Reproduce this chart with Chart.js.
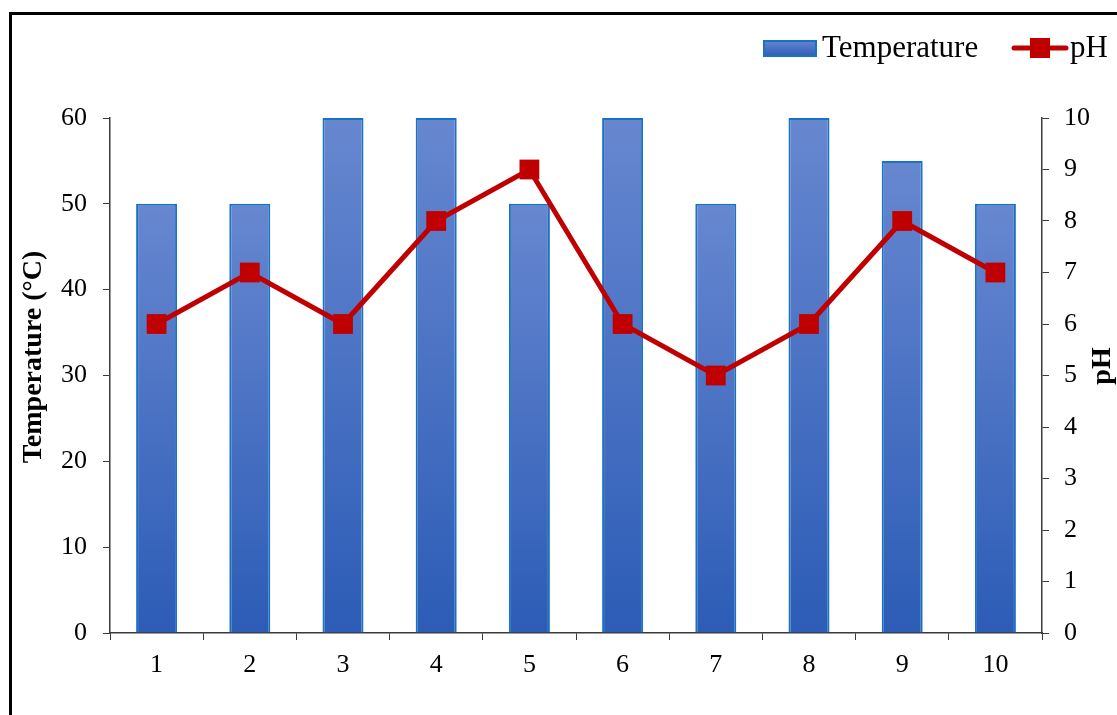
<!DOCTYPE html>
<html>
<head>
<meta charset="utf-8">
<script src="https://cdn.jsdelivr.net/npm/chart.js@4/dist/chart.umd.min.js"></script>
<style>
  html, body { margin: 0; padding: 0; background: #ffffff; }
  #wrap { width: 1117px; height: 715px; position: relative; }
</style>
</head>
<body>
<div id="wrap"><canvas id="c" width="1117" height="715"></canvas></div>
<script>
const categories = ['1', '2', '3', '4', '5', '6', '7', '8', '9', '10'];
const temperature = [50, 50, 60, 60, 50, 60, 50, 60, 55, 50];
const ph = [6, 7, 6, 8, 9, 6, 5, 6, 8, 7];
const tempTicks = [0, 10, 20, 30, 40, 50, 60];
const phTicks = [0, 1, 2, 3, 4, 5, 6, 7, 8, 9, 10];
const leftTitle = 'Temperature (°C)';
const rightTitle = 'pH';
const seriesNames = ['Temperature', 'pH'];

const FONT = "'Liberation Serif', 'Times New Roman', serif";
const BAR_TOP = '#6787d0';
const BAR_BOTTOM = '#2c5cb6';
const BAR_EDGE = '#1a72c4';
const LINE_COL = '#c00000';
const AXIS_COL = '#3a3a3a';

function barGradient(ctx, top, bottom) {
  const g = ctx.createLinearGradient(0, top, 0, bottom);
  g.addColorStop(0, BAR_TOP);
  g.addColorStop(1, BAR_BOTTOM);
  return g;
}

const decor = {
  id: 'decor',
  beforeDraw(chart) {
    const ctx = chart.ctx;
    ctx.save();
    ctx.fillStyle = '#ffffff';
    ctx.fillRect(0, 0, chart.width, chart.height);
    ctx.restore();
  },
  afterDraw(chart) {
    const ctx = chart.ctx;
    ctx.save();
    // outer frame (extends beyond the visible window on the right and bottom)
    ctx.strokeStyle = '#000000';
    ctx.lineWidth = 3;
    ctx.strokeRect(10.5, 13.5, 1200, 800);

    // axis titles
    ctx.fillStyle = '#000000';
    ctx.font = "bold 28px " + FONT;
    ctx.textAlign = 'center';
    ctx.textBaseline = 'alphabetic';
    ctx.save();
    ctx.translate(41, 357);
    ctx.rotate(-Math.PI / 2);
    ctx.fillText(leftTitle, 0, 0);
    ctx.restore();
    ctx.save();
    ctx.translate(1110, 366);
    ctx.rotate(-Math.PI / 2);
    ctx.fillText(rightTitle, 0, 0);
    ctx.restore();

    // legend
    ctx.font = "31px " + FONT;
    ctx.textAlign = 'left';
    ctx.textBaseline = 'middle';
    ctx.fillStyle = barGradient(ctx, 40, 57);
    ctx.fillRect(763, 40, 54, 17);
    ctx.strokeStyle = BAR_EDGE;
    ctx.lineWidth = 2;
    ctx.strokeRect(764, 41, 52, 15);
    ctx.fillStyle = '#000000';
    ctx.fillText(seriesNames[0], 822, 49);

    ctx.strokeStyle = LINE_COL;
    ctx.lineWidth = 5;
    ctx.lineCap = 'round';
    ctx.beginPath();
    ctx.moveTo(1014, 48);
    ctx.lineTo(1066, 48);
    ctx.stroke();
    ctx.fillStyle = LINE_COL;
    ctx.fillRect(1030, 38, 20, 20);
    ctx.fillStyle = '#000000';
    ctx.fillText(seriesNames[1], 1070, 49);
    ctx.restore();
  }
};

const chart = new Chart(document.getElementById('c'), {
  data: {
    labels: categories,
    datasets: [
      {
        type: 'line',
        label: seriesNames[1],
        data: ph,
        yAxisID: 'y1',
        order: 0,
        borderColor: LINE_COL,
        backgroundColor: LINE_COL,
        borderWidth: 5,
        pointStyle: 'rect',
        pointRadius: 14,
        pointHoverRadius: 14,
        pointBackgroundColor: LINE_COL,
        pointBorderWidth: 0,
        tension: 0
      },
      {
        type: 'bar',
        label: seriesNames[0],
        data: temperature,
        yAxisID: 'y',
        order: 1,
        backgroundColor: (c) => {
          const ch = c.chart;
          if (!ch.chartArea) return BAR_BOTTOM;
          const ys = ch.scales.y;
          const v = c.raw == null ? 0 : c.raw;
          return barGradient(ch.ctx, ys.getPixelForValue(v), ys.getPixelForValue(0));
        },
        borderColor: BAR_EDGE,
        borderWidth: 2,
        categoryPercentage: 1,
        barPercentage: 0.44
      }
    ]
  },
  options: {
    responsive: false,
    animation: false,
    devicePixelRatio: 1,
    layout: { padding: { top: 118, left: 0, right: 0, bottom: 0 } },
    plugins: {
      legend: { display: false },
      tooltip: { enabled: false }
    },
    scales: {
      x: {
        type: 'category',
        offset: true,
        grid: { display: true, drawOnChartArea: false, drawTicks: true, tickLength: 7, color: AXIS_COL, offset: true },
        border: { display: true, color: AXIS_COL, width: 1.5 },
        ticks: { color: '#000000', font: { family: FONT, size: 26 }, padding: 10, maxRotation: 0 },
        afterFit(s) { s.height = 82; }
      },
      y: {
        position: 'left',
        min: 0, max: 60,
        afterBuildTicks(s) { s.ticks = tempTicks.map(v => ({ value: v })); },
        grid: { display: true, drawOnChartArea: false, drawTicks: true, tickLength: 7, color: AXIS_COL },
        border: { display: true, color: AXIS_COL, width: 1.5 },
        ticks: { color: '#000000', font: { family: FONT, size: 26 }, padding: 16 },
        afterFit(s) { s.width = 110; }
      },
      y1: {
        position: 'right',
        min: 0, max: 10,
        afterBuildTicks(s) { s.ticks = phTicks.map(v => ({ value: v })); },
        grid: { display: true, drawOnChartArea: false, drawTicks: true, tickLength: 7, color: AXIS_COL },
        border: { display: true, color: AXIS_COL, width: 1.5 },
        ticks: { color: '#000000', font: { family: FONT, size: 26 }, padding: 15 },
        afterFit(s) { s.width = 75; }
      }
    }
  },
  plugins: [decor]
});
</script>
</body>
</html>
